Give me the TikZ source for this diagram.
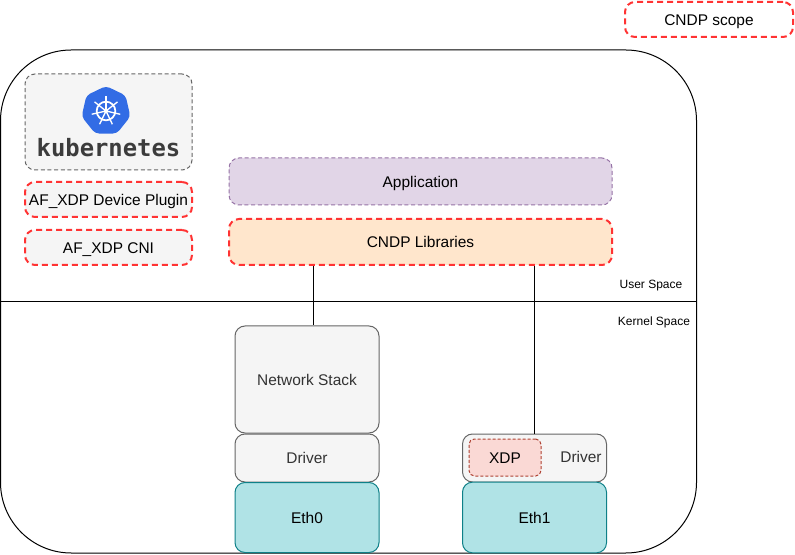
\documentclass[tikz,border=0pt]{standalone}
\usepackage{fontspec}
\setmainfont{Liberation Sans}
\newfontfamily\logofont{DejaVu Sans Mono}
\usetikzlibrary{calc}
\usetikzlibrary{positioning}
\usetikzlibrary{shapes.geometric}
\definecolor{panelgray}{RGB}{245, 245, 245}
\definecolor{edgegray}{RGB}{102, 102, 102}
\definecolor{scopered}{RGB}{255, 51, 51}
\definecolor{lilac}{RGB}{225, 213, 231}
\definecolor{lilacedge}{RGB}{150, 115, 166}
\definecolor{peach}{RGB}{255, 230, 204}
\definecolor{aqua}{RGB}{176, 227, 230}
\definecolor{aquaedge}{RGB}{14, 128, 136}
\definecolor{blush}{RGB}{250, 217, 213}
\definecolor{blushedge}{RGB}{174, 65, 50}
\definecolor{kubeblue}{RGB}{50, 108, 229}
\definecolor{kubetext}{RGB}{60, 60, 60}
\tikzset{
    base/.style={inner sep=0pt, font=\fontsize{11.6}{13}\selectfont, text height=9.5pt, text depth=0.7pt, rounded corners=7.5pt},
    scopebox/.style={base, draw=scopered, fill=panelgray, line width=1.5pt, dash pattern=on 4.5pt off 3pt},
    plainbox/.style={base, draw=edgegray, fill=panelgray, line width=0.75pt, text=black!80},
    ethbox/.style={base, draw=aquaedge, fill=aqua, line width=0.75pt},
    tiny label/.style={inner sep=0pt, font=\fontsize{9}{10}\selectfont}
}
\begin{document}
\begin{tikzpicture}[x=0.75pt, y=-0.75pt]
    \useasboundingbox (0,0) rectangle (795,555);
    \fill[white] (0,0) rectangle (795,555);
    % outer frame and the user/kernel line
    \node[draw=black, line width=0.75pt, rounded corners=53pt, minimum width=522pt, minimum height=377.25pt] (frame) at (348.5,301.5) {};
    \coordinate (splitleft) at (0,302);
    \coordinate (splitright) at (697,302);
    \draw[black, line width=0.75pt] (splitleft) -- (splitright);
    \node[tiny label] (userspace) at (651,286) {User Space};
    \node[tiny label] (kernelspace) at (654,322) {Kernel Space};

    \node[scopebox, fill=white, minimum width=126pt, minimum height=26.25pt] (scope) at (709,19.5) {CNDP scope};

    % kubernetes panel
    \node[base, draw=edgegray, fill=panelgray, line width=0.75pt, dash pattern=on 3pt off 2pt, minimum width=125.25pt, minimum height=72pt] (kube) at (108.5,122) {};
    \node[regular polygon, regular polygon sides=7, fill=kubeblue, rounded corners=3pt, minimum size=37.5pt, inner sep=0pt] (logo) at (106,111) {};
    \draw[white, line width=1.3pt] (logo.center) circle (7pt);
    \fill[white] (logo.center) circle (1.6pt);
    \foreach \a in {90,141.4,...,400}
        \draw[white, line width=1pt] (logo.center) -- ++(\a:11pt);
    \node[inner sep=0pt, font=\logofont\bfseries\fontsize{17.9}{20}\selectfont, text=kubetext] (kubeword) at (108.5,148) {kubernetes};

    \node[scopebox, minimum width=125.25pt, minimum height=26.25pt] (plugin) at (108.5,199.5) {AF\_XDP Device Plugin};
    \node[scopebox, minimum width=125.25pt, minimum height=26.25pt] (cni) at (108.5,247.5) {AF\_XDP CNI};

    % user space blocks
    \node[base, draw=lilacedge, fill=lilac, line width=0.75pt, dash pattern=on 3pt off 2pt, minimum width=287.25pt, minimum height=35.25pt] (app) at (420.5,181.5) {Application};
    \node[scopebox, fill=peach, minimum width=287.25pt, minimum height=34.5pt] (libs) at (420.5,242) {CNDP Libraries};

    % kernel space blocks
    \node[plainbox, minimum width=108pt, minimum height=80.25pt] (stack) at (307,379.5) {Network Stack};
    \node[plainbox, minimum width=108pt, minimum height=36pt] (driver0) at (307,458) {Driver};
    \node[ethbox, minimum width=108pt, minimum height=52.5pt] (eth0) at (307,517.5) {Eth0};
    \node[plainbox, minimum width=108pt, minimum height=36pt] (driver1) at (534.5,458) {};
    \node[ethbox, minimum width=108pt, minimum height=53pt] (eth1) at (534.5,517.5) {Eth1};
    \node[base, draw=blushedge, fill=blush, line width=0.75pt, dash pattern=on 2.25pt off 1.5pt, rounded corners=4pt, minimum width=54pt, minimum height=27.75pt] (xdp) at (505,457.5) {XDP};
    \node[inner sep=0pt, font=\fontsize{11.6}{13}\selectfont, text=black!80] (driver1text) at (581,457) {Driver};

    \draw[black, line width=0.75pt] ([xshift=4.5pt]stack.north |- libs.south) -- ([xshift=4.5pt]stack.north);
    \draw[black, line width=0.75pt] (driver1.north |- libs.south) -- (driver1.north);
\end{tikzpicture}
\end{document}
